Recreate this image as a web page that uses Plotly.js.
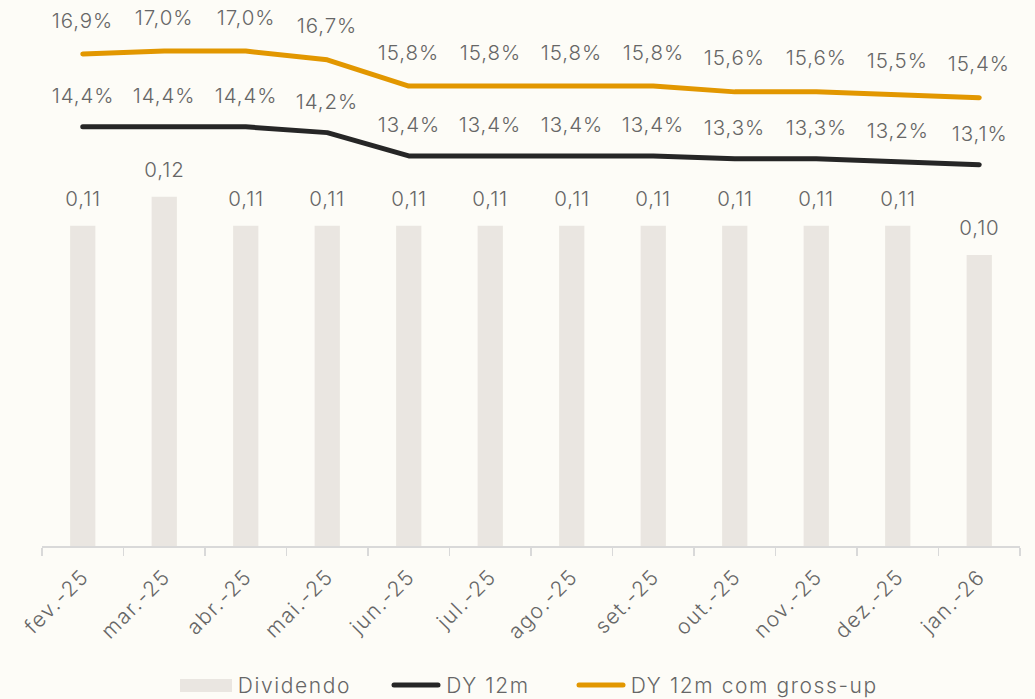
<!DOCTYPE html>
<html>
<head>
<meta charset="utf-8">
<script src="https://cdn.plot.ly/plotly-3.0.1.min.js"></script>
<style>
html,body{margin:0;padding:0;background:#FDFCF7;}
#chart{width:1035px;height:699px;}
#chart svg text{letter-spacing:0.9px;}
#chart svg .xtick text{letter-spacing:1.6px;}
#chart svg .legtxt text{letter-spacing:1.6px;}
#chart svg .scatterlayer path.js-line{stroke-linecap:round;stroke-linejoin:round;}
#chart svg .shapelayer path{stroke-linecap:round;}
</style>
</head>
<body>
<div id="chart"></div>
<script>
const months = ['fev.-25','mar.-25','abr.-25','mai.-25','jun.-25','jul.-25','ago.-25','set.-25','out.-25','nov.-25','dez.-25','jan.-26'];
const dividendo = [0.11,0.12,0.11,0.11,0.11,0.11,0.11,0.11,0.11,0.11,0.11,0.10];
const dy12m = [14.4,14.4,14.4,14.2,13.4,13.4,13.4,13.4,13.3,13.3,13.2,13.1];
const dyGross = [16.9,17.0,17.0,16.7,15.8,15.8,15.8,15.8,15.6,15.6,15.5,15.4];
const seriesNames = ['Dividendo','DY 12m','DY 12m com gross-up'];

const txtColor = '#666666';
const barColor = '#EAE6E1';
const blackColor = '#262626';
const orangeColor = '#E29700';
const font = 'Inter, Roboto, "Open Sans", sans-serif';
const fmtPct = v => v.toFixed(1).replace('.', ',') + '%';
const fmtDiv = v => v.toFixed(2).replace('.', ',');

const traces = [
  {type:'bar', name:seriesNames[0], x:months, y:dividendo, marker:{color:barColor}, hoverinfo:'skip'},
  {type:'scatter', mode:'lines', name:seriesNames[1], x:months, y:dy12m, yaxis:'y2', line:{color:blackColor, width:5}},
  {type:'scatter', mode:'lines', name:seriesNames[2], x:months, y:dyGross, yaxis:'y2', line:{color:orangeColor, width:5}}
];

const lblFont = {size:20.5, color:txtColor, family:font, weight:300};
const annotations = [];
months.forEach((m,i)=>{
  annotations.push({x:m, y:dividendo[i], yref:'y', text:fmtDiv(dividendo[i]), showarrow:false, yshift:27, font:lblFont});
  annotations.push({x:m, y:dy12m[i], yref:'y2', text:fmtPct(dy12m[i]), showarrow:false, yshift:31, font:lblFont});
  annotations.push({x:m, y:dyGross[i], yref:'y2', text:fmtPct(dyGross[i]), showarrow:false, yshift:34, font:lblFont});
});

// custom legend (paper coordinates; plot area x 42..1020, y 22..546)
const W = 978, H = 524;
const px = v => (v - 42) / W;
const py = v => (546 - v) / H;
const legY = py(685);
const shapes = [
  {type:'rect', xref:'paper', yref:'paper', x0:px(180), x1:px(232), y0:py(692), y1:py(679), fillcolor:barColor, line:{width:0}},
  {type:'line', xref:'paper', yref:'paper', x0:px(394), x1:px(438), y0:legY, y1:legY, line:{color:blackColor, width:5}},
  {type:'line', xref:'paper', yref:'paper', x0:px(579), x1:px(623), y0:legY, y1:legY, line:{color:orangeColor, width:5}}
];
const legFont = {size:21, color:txtColor, family:font, weight:300};
annotations.push({xref:'paper', yref:'paper', x:px(294), y:legY, xanchor:'center', yanchor:'middle', text:seriesNames[0], showarrow:false, font:legFont});
annotations.push({xref:'paper', yref:'paper', x:px(488), y:legY, xanchor:'center', yanchor:'middle', text:seriesNames[1], showarrow:false, font:legFont});
annotations.push({xref:'paper', yref:'paper', x:px(754), y:legY, xanchor:'center', yanchor:'middle', text:seriesNames[2], showarrow:false, font:legFont});

const layout = {
  width:1035, height:699,
  paper_bgcolor:'#FDFCF7', plot_bgcolor:'#FDFCF7',
  margin:{l:42, r:15, t:22, b:153},
  font:{family:font, color:txtColor},
  bargap:0.69,
  showlegend:false,
  xaxis:{type:'category', automargin:false, tickson:'boundaries', ticks:'outside', ticklen:8, tickcolor:'#D9D9D9', tickwidth:1.5, showline:true, linecolor:'#D9D9D9', linewidth:2, tickangle:-45, ticklabelstandoff:8, tickfont:{size:21,color:txtColor,family:font,weight:300}, showgrid:false, zeroline:false},
  yaxis:{range:[0,0.18], visible:false, showgrid:false, zeroline:false, automargin:false},
  yaxis2:{range:[0,18], overlaying:'y', visible:false, showgrid:false, zeroline:false, automargin:false},
  shapes:shapes,
  annotations:annotations
};

Plotly.newPlot('chart', traces, layout, {displayModeBar:false, staticPlot:true}).then(gd=>{
  const anns = gd.querySelectorAll('.annotation');
  const n = anns.length;
  for (let k = n-3; k < n; k++) anns[k].classList.add('legtxt');
});
</script>
</body>
</html>
